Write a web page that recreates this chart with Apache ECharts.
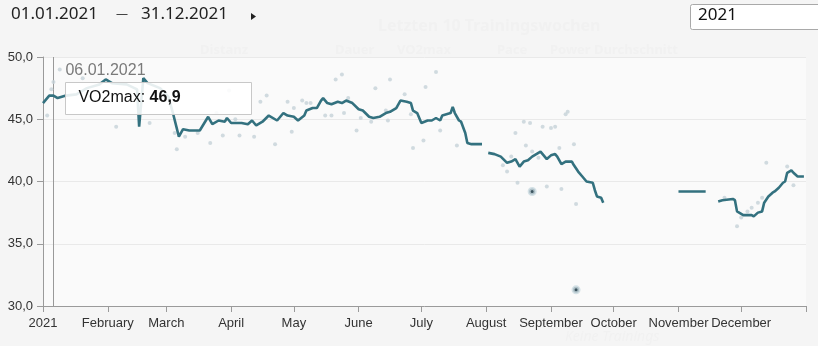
<!DOCTYPE html>
<html>
<head>
<meta charset="utf-8">
<script src="https://cdn.jsdelivr.net/npm/echarts@6/dist/echarts.min.js"></script>
<style>
  html, body { margin: 0; padding: 0; background: #f5f5f5; }
  #chart { width: 818px; height: 346px; }
</style>
</head>
<body>
<div id="chart"></div>
<script>
// VO2max trend (smoothed line), single measurements and flagged measurements for 2021
const monthNames = ['January', 'February', 'March', 'April', 'May', 'June', 'July',
  'August', 'September', 'October', 'November', 'December'];

const yTicks = [30, 35, 40, 45, 50];

// Smoothed VO2max line; null entries break the line where no training happened
const lineDates = [
  '2021-01-01','2021-01-03','2021-01-04','2021-01-06','2021-01-08','2021-01-10','2021-01-12',
  '2021-01-17','2021-01-22','2021-01-28','2021-01-31','2021-02-03','2021-02-10','2021-02-15',
  '2021-02-16','2021-02-18','2021-02-20','2021-02-26','2021-03-02','2021-03-04','2021-03-07',
  '2021-03-09','2021-03-12','2021-03-17','2021-03-21','2021-03-23','2021-03-26','2021-03-29',
  '2021-03-30','2021-04-01','2021-04-06','2021-04-09','2021-04-11','2021-04-13','2021-04-16',
  '2021-04-19','2021-04-23','2021-04-26','2021-04-28','2021-05-01','2021-05-03','2021-05-06',
  '2021-05-07','2021-05-10','2021-05-12','2021-05-14','2021-05-15','2021-05-17','2021-05-19',
  '2021-05-22','2021-05-24','2021-05-26','2021-05-29','2021-06-01','2021-06-03','2021-06-06',
  '2021-06-08','2021-06-11','2021-06-14','2021-06-16','2021-06-19','2021-06-21','2021-06-24',
  '2021-06-26','2021-06-27','2021-06-29','2021-07-01','2021-07-04','2021-07-06','2021-07-08',
  '2021-07-10','2021-07-11','2021-07-13','2021-07-15','2021-07-16','2021-07-17','2021-07-19',
  '2021-07-20','2021-07-22','2021-07-23','2021-07-25','2021-07-30','2021-07-31',
  '2021-08-02','2021-08-05','2021-08-08','2021-08-11','2021-08-13','2021-08-15','2021-08-17',
  '2021-08-19','2021-08-21','2021-08-23','2021-08-25','2021-08-27','2021-08-30','2021-09-01',
  '2021-09-03','2021-09-04','2021-09-06','2021-09-08','2021-09-11','2021-09-12','2021-09-14',
  '2021-09-16','2021-09-18','2021-09-21','2021-09-22','2021-09-23','2021-09-25','2021-09-26',
  '2021-09-27',
  '2021-11-01','2021-11-14','2021-11-15',
  '2021-11-20','2021-11-22','2021-11-27','2021-11-28','2021-11-29','2021-11-30','2021-12-02',
  '2021-12-06','2021-12-07','2021-12-09','2021-12-11','2021-12-12','2021-12-14','2021-12-16',
  '2021-12-17','2021-12-19','2021-12-21','2021-12-22','2021-12-23','2021-12-25','2021-12-26',
  '2021-12-28','2021-12-31'
];
const lineValues = [
  46.3, 46.7, 46.9, 46.9, 46.7, 46.8, 46.9,
  47.0, 47.5, 47.8, 48.2, 47.9, 47.8, 47.4,
  44.4, 48.3, 47.9, 47.5, 46.8, 45.6, 43.6,
  44.2, 44.1, 44.1, 45.2, 44.6, 44.9, 44.8,
  45.1, 44.7, 44.7, 44.6, 44.9, 44.5, 44.8,
  45.3, 44.9, 45.5, 45.3, 45.2, 44.9, 45.3,
  45.7, 45.9, 45.9, 46.5, 46.7, 46.3, 46.2,
  46.4, 46.3, 46.5, 46.3, 45.8, 45.7, 45.2,
  45.1, 45.2, 45.5, 45.6, 45.9, 46.5, 46.4,
  46.3, 45.7, 45.5, 44.7, 44.9, 44.9, 45.1,
  44.9, 45.3, 45.4, 45.5, 46.0, 45.5, 44.9,
  44.8, 43.9, 43.1, 43.0, 43.0, null,
  42.3, 42.2, 42.0, 41.5, 41.6, 41.8, 41.2,
  41.6, 41.7, 42.0, 42.2, 42.4, 41.8, 42.1,
  42.2, 42.0, 41.4, 41.6, 41.6, 41.3, 40.8,
  40.4, 40.0, 39.9, 39.3, 38.8, 38.7, 38.3,
  null,
  39.2, 39.2, null,
  38.4, 38.5, 38.6, 38.5, 37.6, 37.5, 37.3,
  37.3, 37.2, 37.5, 37.6, 38.3, 38.8, 39.1,
  39.2, 39.5, 39.9, 40.0, 40.7, 40.9, 40.7,
  40.4, 40.4
];

// Individual VO2max measurements
const pointDates = [
  '2021-01-03','2021-01-05','2021-01-06','2021-01-09','2021-01-20','2021-02-05','2021-02-21',
  '2021-03-05','2021-03-06','2021-03-10','2021-03-16','2021-03-22','2021-03-25','2021-03-28',
  '2021-03-31','2021-04-03','2021-04-05','2021-04-12','2021-04-15','2021-04-18','2021-04-22',
  '2021-04-28','2021-04-30','2021-05-01','2021-05-05','2021-05-07','2021-05-09','2021-05-16',
  '2021-05-19','2021-05-21','2021-05-24','2021-05-25','2021-05-27','2021-05-31','2021-06-02',
  '2021-06-07','2021-06-09','2021-06-14','2021-06-15','2021-06-16','2021-06-23','2021-06-26',
  '2021-06-27','2021-07-02','2021-07-03','2021-07-08','2021-07-10','2021-07-18','2021-08-09',
  '2021-08-11','2021-08-13','2021-08-15','2021-08-16','2021-08-19','2021-08-20','2021-08-22',
  '2021-08-23','2021-08-26','2021-08-28','2021-08-30','2021-09-01','2021-09-03','2021-09-05',
  '2021-09-06','2021-09-08','2021-09-09','2021-09-12','2021-09-13','2021-11-23','2021-11-29',
  '2021-12-01','2021-12-04','2021-12-06','2021-12-09','2021-12-11','2021-12-13','2021-12-23',
  '2021-12-26'
];
const pointValues = [
  45.3, 47.4, 48.0, 49.0, 48.3, 44.4, 44.7,
  43.9, 42.6, 43.6, 43.9, 43.1, 45.5, 43.7,
  47.3, 45.0, 43.7, 43.6, 46.4, 46.9, 43.0,
  46.4, 44.0, 45.9, 46.5, 46.3, 46.3, 45.3,
  45.3, 48.2, 48.6, 45.5, 46.7, 44.1, 45.1,
  44.8, 47.5, 45.7, 44.9, 48.2, 47.0, 45.4,
  42.7, 43.3, 47.6, 48.8, 44.1, 42.9, 41.3,
  40.8, 42.0, 43.9, 39.9, 44.8, 42.9, 44.7,
  42.4, 41.9, 44.4, 39.6, 44.3, 44.4, 42.7,
  39.4, 45.4, 45.6, 43.0, 38.2, 38.7, 36.4,
  37.1, 37.6, 37.9, 38.3, 38.7, 41.5, 41.2,
  39.7
];

// Flagged measurements
const flaggedDates = ['2021-08-23', '2021-09-13'];
const flaggedValues = [39.2, 31.3];

// Hovered day shown in the tooltip
const tooltipDate = '2021-01-06';
const tooltipValue = 46.9;
const tooltipLabel = 'VO2max';

const zip = (a, b) => a.map((d, i) => [d, b[i]]);
const fmt = v => v.toFixed(1).replace('.', ',');

const chart = echarts.init(document.getElementById('chart'), null, { renderer: 'canvas' });

const axisFont = 'Liberation Sans, Arial, sans-serif';
const uiFont = 'Noto Sans, Open Sans, sans-serif';
const ghost = '#f1f1f1';

chart.setOption({
  backgroundColor: '#f5f5f5',
  animation: false,
  grid: {
    left: 43, right: 12, top: 57, bottom: 40,
    show: true, backgroundColor: '#fafafa', borderWidth: 0
  },
  xAxis: {
    type: 'time',
    min: '2021-01-01',
    max: '2022-01-01',
    splitNumber: 12,
    minInterval: 28 * 864e5,
    maxInterval: 31 * 864e5,
    axisLine: { lineStyle: { color: '#9a9a9a', width: 1 } },
    axisTick: { show: true, length: 6, lineStyle: { color: '#9a9a9a' } },
    splitLine: { show: false },
    axisLabel: {
      color: '#333',
      fontFamily: axisFont,
      fontSize: 13,
      margin: 11,
      hideOverlap: false,
      showMinLabel: true,
      showMaxLabel: true,
      formatter: function (value) {
        const d = new Date(value);
        if (d.getFullYear() > 2021) return '';
        return d.getMonth() === 0 ? String(d.getFullYear()) : monthNames[d.getMonth()];
      }
    }
  },
  yAxis: {
    type: 'value',
    min: yTicks[0],
    max: yTicks[yTicks.length - 1],
    interval: 5,
    axisLine: { show: true, lineStyle: { color: '#9a9a9a', width: 1 } },
    axisTick: { show: true, length: 6, lineStyle: { color: '#9a9a9a' } },
    splitLine: { show: true, lineStyle: { color: '#e9e9e9', width: 1 } },
    axisLabel: {
      color: '#333',
      fontFamily: axisFont,
      fontSize: 13,
      margin: 10,
      formatter: v => fmt(v)
    }
  },
  series: [
    {
      name: 'Messungen',
      type: 'scatter',
      data: zip(pointDates, pointValues),
      symbolSize: 4,
      itemStyle: { color: '#c6d2d8' },
      silent: true,
      z: 2
    },
    {
      name: tooltipLabel,
      type: 'line',
      data: zip(lineDates, lineValues),
      showSymbol: false,
      connectNulls: false,
      lineStyle: { color: '#33717f', width: 2.6 },
      itemStyle: { color: '#33717f' },
      silent: true,
      z: 3,
      markLine: {
        silent: true,
        symbol: ['none', 'none'],
        label: { show: false },
        lineStyle: { color: '#999', width: 1, type: 'solid' },
        data: [{ xAxis: tooltipDate }],
        z: 1
      }
    },
    {
      name: 'Markiert',
      type: 'scatter',
      data: zip(flaggedDates, flaggedValues),
      symbolSize: 6,
      itemStyle: { color: '#0c2a38', borderColor: '#c9d9e0', borderWidth: 3 },
      silent: true,
      z: 4
    }
  ]
});

// Tooltip box anchored to the hovered day
const anchor = chart.convertToPixel({ gridIndex: 0 }, [tooltipDate, tooltipValue]);
const tipX = anchor[0] + 12;
const [dd, mm, yy] = [tooltipDate.slice(8, 10), tooltipDate.slice(5, 7), tooltipDate.slice(0, 4)];

chart.setOption({
  graphic: [
    // faint background captions
    { type: 'text', left: 378, top: 18, silent: true, z: 0,
      style: { text: 'Letzten 10 Trainingswochen', fill: ghost, font: 'bold 16px ' + uiFont } },
    { type: 'text', left: 200, top: 44, silent: true, z: 0,
      style: { text: 'Distanz', fill: ghost, font: 'bold 13px ' + uiFont } },
    { type: 'text', left: 335, top: 44, silent: true, z: 0,
      style: { text: 'Dauer', fill: ghost, font: 'bold 13px ' + uiFont } },
    { type: 'text', left: 397, top: 44, silent: true, z: 0,
      style: { text: 'VO2max', fill: ghost, font: 'bold 13px ' + uiFont } },
    { type: 'text', left: 497, top: 44, silent: true, z: 0,
      style: { text: 'Pace', fill: ghost, font: 'bold 13px ' + uiFont } },
    { type: 'text', left: 550, top: 44, silent: true, z: 0,
      style: { text: 'Power Durchschnitt', fill: ghost, font: 'bold 13px ' + uiFont } },
    { type: 'text', left: 565, top: 330, silent: true, z: 0,
      style: { text: 'Keine Trainings', fill: ghost, font: 'italic 14px ' + uiFont } },

    // date range header
    { type: 'text', left: 11, top: 6,
      style: { text: '01.01.2021', fill: '#222', font: '17px ' + uiFont } },
    { type: 'text', left: 116, top: 9,
      style: { text: '—', fill: '#444', font: '12px ' + uiFont } },
    { type: 'text', left: 141, top: 6,
      style: { text: '31.12.2021', fill: '#222', font: '17px ' + uiFont } },
    { type: 'polygon', shape: { points: [[251, 13], [256, 16.5], [251, 20]] },
      style: { fill: '#222' } },

    // year selector
    { type: 'rect', shape: { x: 690.5, y: 4.5, width: 140, height: 25, r: 2 },
      style: { fill: '#ffffff', stroke: '#a9a9a9', lineWidth: 1 } },
    { type: 'text', left: 698, top: 7,
      style: { text: '2021', fill: '#111', font: '17px ' + uiFont } },

    // tooltip
    { type: 'text', left: tipX, top: 63, z: 100,
      style: { text: dd + '.' + mm + '.' + yy, fill: '#7a7a7a', font: '16px ' + axisFont } },
    { type: 'rect', z: 100,
      shape: { x: Math.round(tipX) + 0.5, y: 82.5, width: 186, height: 32 },
      style: { fill: 'rgba(255,255,255,0.88)', stroke: '#c8c8c8', lineWidth: 1 } },
    { type: 'text', left: tipX + 13, top: 90, z: 101,
      style: {
        text: '{n|' + tooltipLabel + ': }{v|' + fmt(tooltipValue) + '}',
        rich: {
          n: { fill: '#111', font: '16px ' + axisFont },
          v: { fill: '#111', font: 'bold 16px ' + axisFont }
        }
      } }
  ]
});
</script>
</body>
</html>
